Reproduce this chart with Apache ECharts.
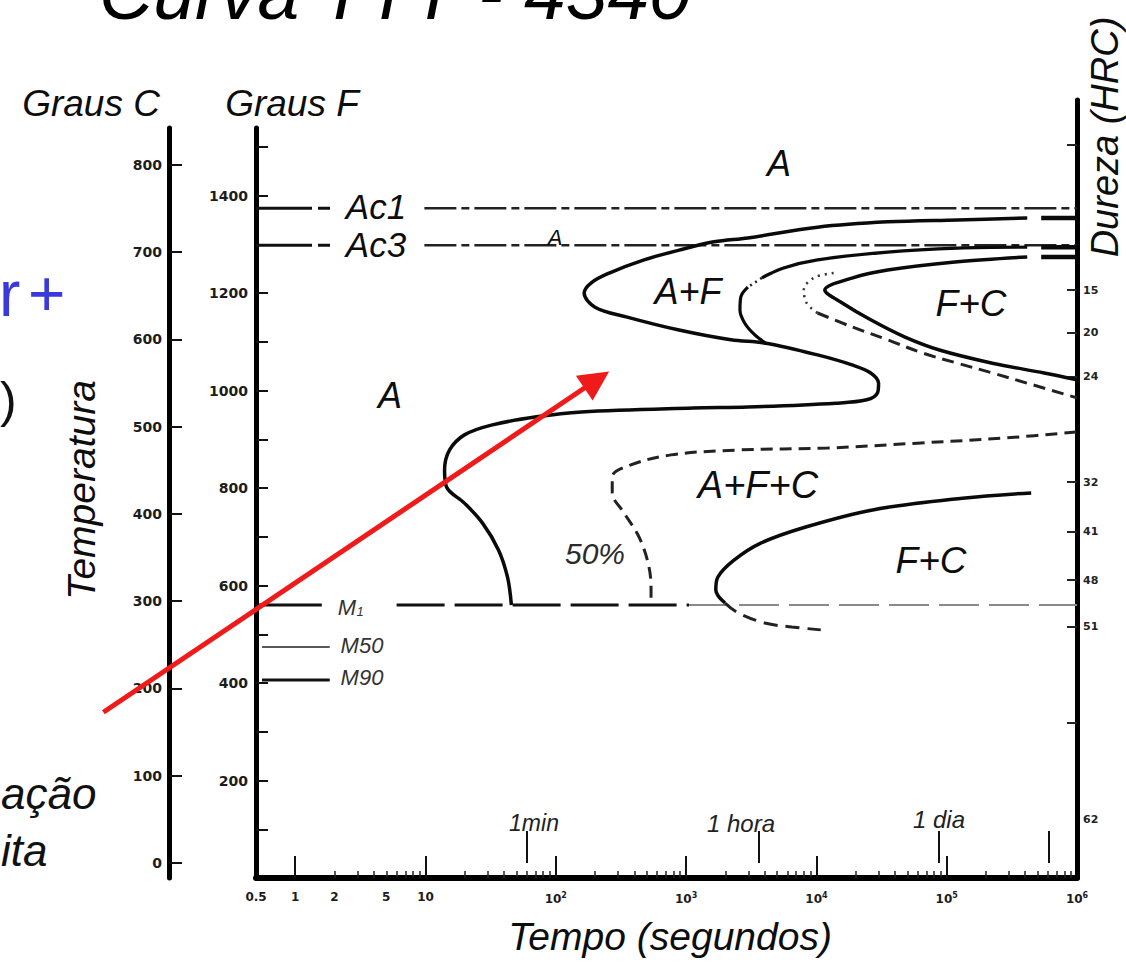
<!DOCTYPE html>
<html>
<head>
<meta charset="utf-8">
<title>Curva TTT - 4340</title>
<script src="https://cdn.jsdelivr.net/npm/echarts@6/dist/echarts.min.js"></script>
<style>
html, body { margin: 0; padding: 0; background: #fff; }
#chart { width: 1126px; height: 963px; }
</style>
</head>
<body>
<div id="chart"></div>
<script>
// Time axis (seconds, log scale)
const timeLabelValues = [0.5, 1, 2, 5, 10, 100, 1e3, 1e4, 1e5, 1e6];
const timeMajorTicks = [1, 10, 100, 1e3, 1e4, 1e5];
const timeMarkTicks = [60, 3600, 86400, 604800];   // 1 min, 1 hora, 1 dia, 1 semana
const timeMinorTicks = [];
for (let d = 1; d <= 1e5; d *= 10) {
  for (let m = 2; m <= 9; m++) timeMinorTicks.push(m * d);
}

// Temperature scales
const fahrenheitTicks = [100, 200, 300, 400, 500, 600, 700, 800, 900, 1000, 1100, 1200, 1300, 1400, 1500];
const fahrenheitLabels = [200, 400, 600, 800, 1000, 1200, 1400];
const celsiusTicks = [0, 100, 200, 300, 400, 500, 600, 700, 800];

// Hardness (HRC) of the product formed at each temperature (°F)
const hardnessTemps = [1206, 1118, 1028, 812, 710, 611, 515, 119];
const hardnessLabels = ['15', '20', '24', '32', '41', '48', '51', '62'];
const hardnessTickTemps = [1504, 1206, 1118, 1028, 812, 710, 611, 515, 318];

// Critical temperatures (°F)
const ac1 = 1374;
const ac3 = 1298;
const msTemp = 560;
const m50Temp = 474;
const m90Temp = 406;

// Transformation curves: [time s, temperature °F]
const startCurve = [
  [415000, 1354], [121000, 1350], [35200, 1346], [10200, 1335], [2980, 1313], [1640, 1305],
  [883, 1288], [476, 1268], [257, 1241], [187, 1221], [165, 1200], [200, 1171], [347, 1151],
  [883, 1124], [2210, 1104], [4090, 1097], [10200, 1073], [19000, 1052], [26100, 1036],
  [30000, 1015], [29400, 995], [24300, 981], [14100, 974], [2980, 966], [1130, 964],
  [157, 956], [71, 946], [32, 929], [19.9, 909], [15.3, 878], [14.0, 837], [14.5, 802],
  [19.9, 769], [27.4, 728], [36.3, 673], [42.6, 617], [45.6, 560]
];
const startTail = [[531000, 1354], [1e6, 1354]];

const ferriteUpper = [[415000, 1294], [121000, 1292], [35200, 1284], [10200, 1268], [5520, 1251], [3810, 1231]];
const ferriteGap = [[3810, 1231], [2980, 1212]];
const ferriteHook = [[2980, 1212], [2630, 1192], [2590, 1165], [2820, 1138], [3370, 1114], [4090, 1097]];
const ferriteTail = [[531000, 1294], [1e6, 1294]];

const halfUpperDotted = [[13550, 1241], [9530, 1231], [8000, 1206], [8430, 1179], [10200, 1159]];
const halfUpperDashed = [
  [10200, 1159], [19000, 1130], [35200, 1104], [65200, 1077], [121000, 1056],
  [224000, 1036], [415000, 1015], [1e6, 985]
];

const endUpper = [
  [415000, 1274], [121000, 1264], [35200, 1247], [19000, 1231], [11600, 1206], [15900, 1179],
  [26100, 1145], [47400, 1110], [87900, 1083], [224000, 1056], [560000, 1036], [1e6, 1022]
];
const endTail = [[531000, 1274], [1e6, 1274]];

const half50Lower = [
  [984000, 915], [292000, 903], [59700, 892], [12200, 882], [2500, 878], [766, 868],
  [372, 847], [271, 823], [271, 790], [334, 749], [436, 699], [511, 646], [538, 597], [538, 560]
];

const endLower = [
  [445000, 790], [132000, 779], [27000, 755], [8280, 720], [3740, 687], [2330, 652],
  [1750, 617], [1690, 591], [1990, 564]
];
const endLowerTail = [[1990, 564], [2500, 544], [4020, 523], [6470, 515], [10800, 509]];

// Cooling path arrow (time s, °F)
const arrowFrom = [0.0337, 340];
const arrowTo = [206, 1022];

const FONT = '"Liberation Sans", Arial, sans-serif';
const NUM_FONT = '"DejaVu Sans", sans-serif';

function curve(data, width, type, color, smooth) {
  return {
    type: 'line', data: data, symbol: 'none', showSymbol: false, silent: true,
    smooth: smooth === undefined ? 0.35 : smooth,
    lineStyle: { color: color || '#0a0a0a', width: width, type: type || 'solid', cap: 'butt' },
    z: 3
  };
}

function txt(text, x, y, size, opt) {
  opt = opt || {};
  return {
    type: 'text', x: x, y: y, silent: true, z: 20,
    rotation: opt.rotation || 0,
    style: {
      text: text,
      font: (opt.italic === false ? '' : 'italic ') + size + 'px ' + FONT,
      fill: opt.fill || '#0d0d0d',
      align: opt.align || 'center',
      verticalAlign: 'middle'
    }
  };
}

function fmtTime(v) {
  if (v >= 100) return '10{s|' + Math.round(Math.log10(v)) + '}';
  return String(v);
}

const numLabel = {
  color: '#1c1c1c', fontSize: 14, fontWeight: 'bold', fontFamily: NUM_FONT,
  formatter: function (v) { return String(v); }
};

const chart = echarts.init(document.getElementById('chart'), null, { renderer: 'svg' });

const option = {
  animation: false,
  backgroundColor: '#ffffff',
  grid: [
    { left: 256, right: 49, top: 128, bottom: 85 },
    { left: 256, right: 49, top: 100, bottom: 85 }
  ],
  xAxis: [
    {
      type: 'log', logBase: 10, gridIndex: 0, min: 0.5, max: 1e6, position: 'bottom',
      axisLine: { show: true, lineStyle: { color: '#000', width: 6 } },
      axisTick: { show: true, inside: true, length: 22, customValues: timeMajorTicks, lineStyle: { color: '#111', width: 2 } },
      axisLabel: {
        show: true, customValues: timeLabelValues, formatter: fmtTime, margin: 13, fontSize: 12,
        color: '#1c1c1c', fontWeight: 'bold', fontFamily: NUM_FONT,
        rich: { s: { fontSize: 8, fontWeight: 'bold', fontFamily: NUM_FONT, color: '#1c1c1c', verticalAlign: 'top', padding: [0, 0, 7, 0] } }
      },
      splitLine: { show: false }, minorTick: { show: false }
    },
    {
      type: 'log', logBase: 10, gridIndex: 0, min: 0.5, max: 1e6, position: 'bottom',
      axisLine: { show: false },
      axisTick: { show: true, inside: true, length: 32, customValues: timeMarkTicks, lineStyle: { color: '#111', width: 2 } },
      axisLabel: { show: false }, splitLine: { show: false }
    },
    {
      type: 'log', logBase: 10, gridIndex: 0, min: 0.5, max: 1e6, position: 'bottom',
      axisLine: { show: false },
      axisTick: { show: true, inside: true, length: 7, customValues: timeMinorTicks, lineStyle: { color: '#222', width: 1.5 } },
      axisLabel: { show: false }, splitLine: { show: false }
    },
    { type: 'log', logBase: 10, gridIndex: 1, min: 0.5, max: 1e6, show: false }
  ],
  yAxis: [
    {
      type: 'value', gridIndex: 0, min: 0, max: 1538.5, position: 'left',
      axisLine: { show: true, lineStyle: { color: '#000', width: 5 } },
      axisTick: { show: true, inside: true, length: 12, customValues: fahrenheitTicks, lineStyle: { color: '#111', width: 2 } },
      axisLabel: Object.assign({ customValues: fahrenheitLabels, margin: 8 }, numLabel),
      splitLine: { show: false }
    },
    {
      type: 'value', gridIndex: 0, min: -17.2, max: 842.4, position: 'left', offset: 87,
      axisLine: { show: true, lineStyle: { color: '#000', width: 5 } },
      axisTick: { show: true, inside: true, length: 13, customValues: celsiusTicks, lineStyle: { color: '#111', width: 2 } },
      axisLabel: Object.assign({ customValues: celsiusTicks, margin: 7 }, numLabel),
      splitLine: { show: false }
    },
    {
      type: 'value', gridIndex: 1, min: 0, max: 1595.9, position: 'right',
      axisLine: { show: true, lineStyle: { color: '#000', width: 5 } },
      axisTick: { show: true, inside: true, length: 10, customValues: hardnessTickTemps, lineStyle: { color: '#222', width: 2 } },
      axisLabel: {
        customValues: hardnessTemps, margin: 6, color: '#222', fontSize: 11, fontWeight: 'bold', fontFamily: NUM_FONT,
        formatter: function (v) {
          for (let i = 0; i < hardnessTemps.length; i++) {
            if (Math.abs(hardnessTemps[i] - v) < 0.5) return hardnessLabels[i];
          }
          return '';
        }
      },
      splitLine: { show: false }
    }
  ],
  series: [
    // Ac1 / Ac3 critical lines (solid lead-in, label gap, dash-dot run)
    curve([[0.5, ac1], [1.98, ac1]], 3, [56, 6, 12, 40], '#111', false),
    curve([[9.8, ac1], [1e6, ac1]], 2.5, [32, 5, 8, 5], '#222', false),
    curve([[0.5, ac3], [1.98, ac3]], 3, [56, 6, 12, 40], '#111', false),
    curve([[9.8, ac3], [1e6, ac3]], 2.5, [32, 5, 8, 5], '#222', false),

    // Martensite lines
    curve([[0.5, msTemp], [1.6, msTemp]], 3, 'solid', '#111', false),
    curve([[6.0, msTemp], [1052, msTemp]], 3, [48, 10], '#111', false),
    curve([[1052, msTemp], [1e6, msTemp]], 2, [40, 10], '#8a8a8a', false),
    curve([[0.556, m50Temp], [1.84, m50Temp]], 1.5, 'solid', '#222', false),
    curve([[0.556, m90Temp], [1.84, m90Temp]], 3, 'solid', '#111', false),

    // Upper nose region
    curve(startCurve, 3.5),
    curve(startTail, 4.5, 'solid', '#0a0a0a', false),
    curve(ferriteUpper, 3.2),
    curve(ferriteGap, 2.5, [2, 4], '#222', false),
    curve(ferriteHook, 3.2),
    curve(ferriteTail, 4.5, 'solid', '#0a0a0a', false),
    curve(halfUpperDotted, 2.5, [2, 5], '#333'),
    curve(halfUpperDashed, 3, [12, 7], '#222'),
    curve(endUpper, 3.5),
    curve(endTail, 4.5, 'solid', '#0a0a0a', false),

    // Lower region
    curve(half50Lower, 3, [12, 7], '#222'),
    curve(endLower, 3.5),
    curve(endLowerTail, 3, [14, 8], '#222'),

    // Cooling path arrow
    {
      type: 'lines', coordinateSystem: 'cartesian2d', xAxisIndex: 0, yAxisIndex: 0,
      clip: false, silent: true, z: 30, polyline: false,
      symbol: ['none', 'triangle'], symbolSize: [1, 30],
      lineStyle: { color: '#ef1b1b', width: 5, opacity: 1, curveness: 0, type: 'solid' },
      itemStyle: { color: '#ef1b1b' },
      data: [{ coords: [arrowFrom, arrowTo] }]
    }
  ],
  graphic: [
    txt('Curva TTT - 4340', 395, -7, 75, { fill: '#000' }),
    txt('Graus C', 91, 103, 37),
    txt('Graus F', 292, 103, 37),
    txt('Temperatura', 81, 490, 39, { rotation: Math.PI / 2 }),
    txt('Tempo (segundos)', 670, 936, 39),
    txt('Dureza (HRC)', 1105, 137, 38, { rotation: Math.PI / 2 }),

    txt('A', 779, 163, 36),
    txt('Ac1', 376, 206, 35),
    txt('Ac3', 376, 244, 35),
    txt('A', 555, 237, 22),
    txt('A+F', 688, 291, 36),
    txt('F+C', 971, 303, 37),
    txt('A', 390, 395, 36),
    txt('A+F+C', 758, 485, 38),
    txt('50%', 595, 553, 30, { fill: '#2b2b2b' }),
    txt('F+C', 931, 560, 37),

    txt('M', 347, 607, 22, { fill: '#333' }),
    txt('1', 360, 611, 13, { fill: '#333' }),
    txt('M50', 362, 645, 22, { fill: '#333' }),
    txt('M90', 362, 677, 22, { fill: '#333' }),

    txt('1min', 534, 823, 23, { fill: '#222' }),
    txt('1 hora', 741, 823, 24, { fill: '#222' }),
    txt('1 dia', 939, 819, 24, { fill: '#222' }),

    txt('r', -1, 294, 64, { italic: false, align: 'left', fill: '#3a3ad8' }),
    txt('+', 28, 294, 64, { italic: false, align: 'left', fill: '#3a3ad8' }),
    txt(')', 0, 400, 50, { italic: false, align: 'left', fill: '#111' }),
    txt('ação', 1, 793, 44, { align: 'left', fill: '#111' }),
    txt('ita', 1, 850, 44, { align: 'left', fill: '#111' })
  ]
};

chart.setOption(option);
</script>
</body>
</html>
